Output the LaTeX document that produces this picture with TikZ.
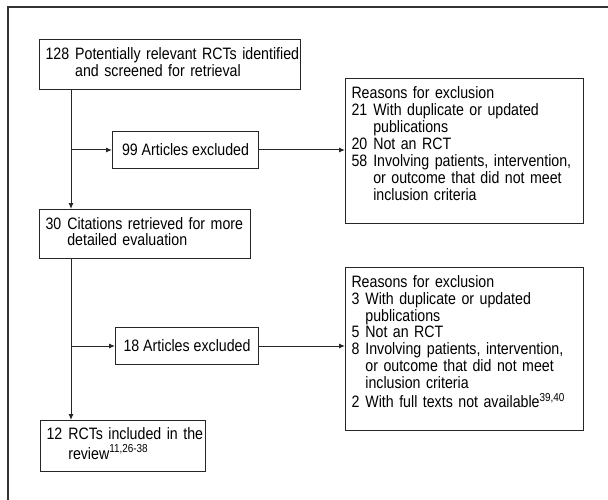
\documentclass[tikz,border=0pt]{standalone}
\usepackage{fontspec}
\setmainfont[FakeStretch=0.86]{Liberation Sans}
\usetikzlibrary{arrows.meta}

\tikzset{
  box/.style={draw=black!85, line width=1pt, anchor=north west, inner xsep=6pt,
    font=\fontsize{16.5}{16.5}\selectfont, align=left},
  arr/.style={draw=black!85, line width=1pt, -{Latex[length=6pt,width=5pt]}}
}
\newcommand{\listbox}[1]{\begin{tabular}{@{}l@{\hspace{6pt}}l@{}}#1\end{tabular}}

\begin{document}
\begin{tikzpicture}[x=1pt,y=-1pt]
  \useasboundingbox (0,0) rectangle (608,500);
  \clip (0,0) rectangle (608,500);
  \draw[draw=black!80, line width=1.2pt] (8,520) |- (620,7);

  \node[box, text width=249, minimum height=50] (screened) at (39,39)
    {\listbox{128 & Potentially relevant RCTs identified\\ & and screened for retrieval}};
  \node[box, minimum width=146, minimum height=37, align=center] (excl1) at (112,131)
    {99 Articles excluded};
  \node[box, text width=226, minimum height=145] (reason1) at (345,78)
    {\listbox{\multicolumn{2}{@{}l@{}}{Reasons for exclusion}\\
      21 & With duplicate or updated\\ & publications\\
      20 & Not an RCT\\
      58 & Involving patients, intervention,\\ & or outcome that did not meet\\ & inclusion criteria\\[10pt]}};
  \node[box, text width=199, minimum height=49] (cited) at (39,209)
    {\listbox{30 & Citations retrieved for more\\ & detailed evaluation}};
  \node[box, minimum width=143, minimum height=37, align=center] (excl2) at (115,327)
    {18 Articles excluded};
  \node[box, text width=226, minimum height=163] (reason2) at (345,267)
    {\listbox{\multicolumn{2}{@{}l@{}}{Reasons for exclusion}\\
      3 & With duplicate or updated\\ & publications\\
      5 & Not an RCT\\
      8 & Involving patients, intervention,\\ & or outcome that did not meet\\ & inclusion criteria\\
      2 & With full texts not available\textsuperscript{39,40}\\[10pt]}};
  \node[box, text width=153, minimum height=51] (included) at (40,420)
    {\listbox{12 & RCTs included in the\\ & review\textsuperscript{11,26-38}}};

  % main trunk and side branches
  \coordinate (trunk) at (71,0);
  \draw[arr] (trunk |- screened.south) -- (trunk |- cited.north);
  \draw[arr] (trunk |- excl1.west) -- (excl1.west);
  \draw[arr] (excl1.east) -- (excl1.east -| reason1.west);
  \draw[arr] (trunk |- cited.south) -- (trunk |- included.north);
  \draw[arr] (trunk |- excl2.west) -- (excl2.west);
  \draw[arr] (excl2.east) -- (excl2.east -| reason2.west);
\end{tikzpicture}
\end{document}
